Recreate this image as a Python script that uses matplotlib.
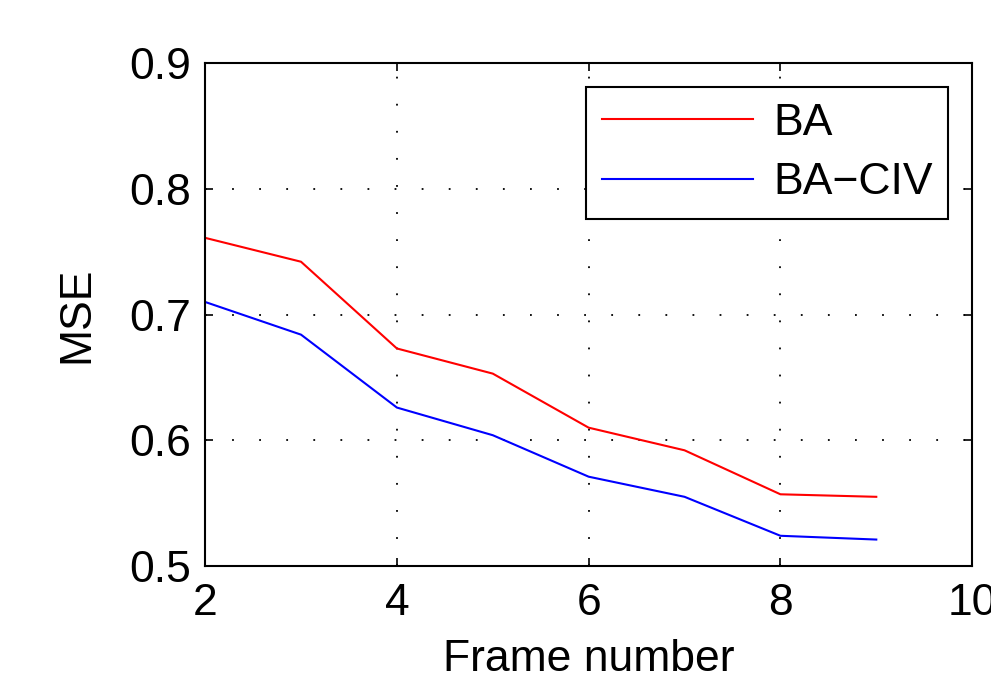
import numpy as np
import matplotlib
matplotlib.use("Agg")
from matplotlib import pyplot as plt

# frame number vs MSE
frames = [2, 3, 4, 5, 6, 7, 8, 9]
mse_ba = [0.761, 0.742, 0.673, 0.653, 0.610, 0.592, 0.557, 0.555]
mse_baciv = [0.710, 0.684, 0.626, 0.604, 0.571, 0.555, 0.524, 0.521]
xticks = [2, 4, 6, 8, 10]
yticks = [0.5, 0.6, 0.7, 0.8, 0.9]

plt.rcParams["font.family"] = ["Liberation Sans", "DejaVu Sans"]

fig = plt.figure(figsize=(9.91, 6.86), dpi=100)
ax = fig.add_axes([0.207, 0.175, 0.774, 0.733])

ax.plot(frames, mse_ba, color="red", linewidth=1.5, label="BA")
ax.plot(frames, mse_baciv, color="blue", linewidth=1.5, label="BA\u2212CIV")

ax.set_xlim(2, 10)
ax.set_ylim(0.5, 0.9)
ax.set_xticks(xticks)
ax.set_yticks(yticks)
ax.set_xticklabels([str(v) for v in xticks])
ax.set_yticklabels(["%.1f" % v for v in yticks])
ax.tick_params(direction="in", top=True, right=True, length=6, width=1.2,
               labelsize=32)
ax.tick_params(axis="x", pad=12)
ax.tick_params(axis="y", pad=10)
ax.grid(True, color="black", linestyle=(0, (1, 14)), linewidth=1.3)
for s in ax.spines.values():
    s.set_linewidth(1.5)

ax.set_xlabel("Frame number", fontsize=32, labelpad=11)
ax.set_ylabel("MSE", fontsize=32, labelpad=23)

# the "10" tick label runs off the right edge, same as the original
leg = ax.legend(loc="upper right", fontsize=32, fancybox=False, framealpha=1,
                edgecolor="black", handlelength=3.4, handletextpad=0.45,
                borderpad=0.35, labelspacing=0.42, borderaxespad=0.54)
leg.get_frame().set_linewidth(1.5)

fig.savefig("out.png", dpi=100)
